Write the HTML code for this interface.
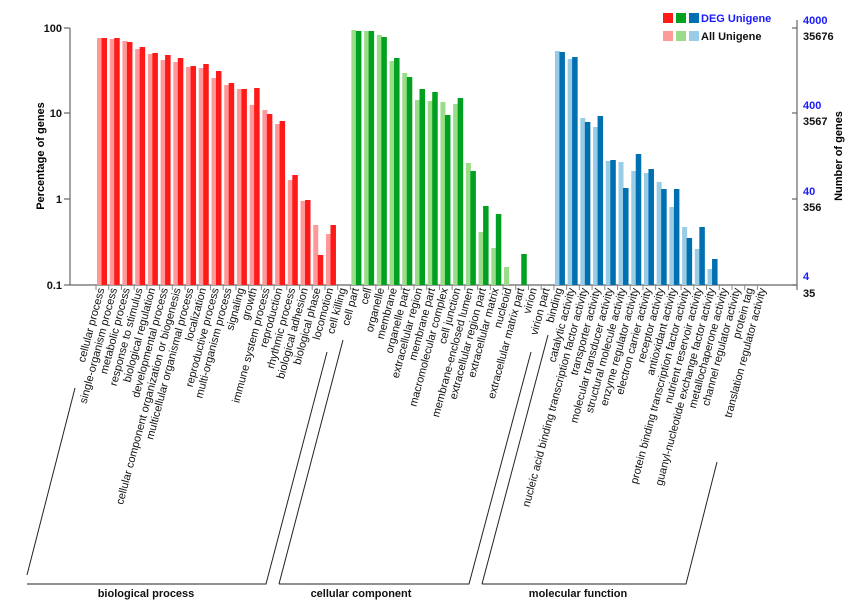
<!DOCTYPE html>
<html><head><meta charset="utf-8"><style>
html,body{margin:0;padding:0;background:#fff;}
svg{display:block;font-family:"Liberation Sans",Arial,sans-serif;}
</style></head><body>
<svg id="s" width="852" height="607" viewBox="0 0 852 607" xmlns="http://www.w3.org/2000/svg">
<g stroke="#666" stroke-width="1.2" fill="none">
<line x1="70" y1="28" x2="70" y2="285"/>
<line x1="70" y1="285" x2="797" y2="285"/>
<line x1="797" y1="20" x2="797" y2="290"/>
<line x1="64" y1="28" x2="70" y2="28"/><line x1="64" y1="113" x2="70" y2="113"/><line x1="64" y1="199" x2="70" y2="199"/><line x1="64" y1="285" x2="70" y2="285"/>
<line x1="792" y1="28" x2="797" y2="28"/><line x1="792" y1="113" x2="797" y2="113"/><line x1="792" y1="199" x2="797" y2="199"/><line x1="792" y1="285" x2="797" y2="285"/>
</g>
<g font-size="11" font-weight="bold" fill="#111" text-anchor="end">
<text x="62" y="32">100</text><text x="62" y="117">10</text><text x="62" y="203">1</text><text x="62" y="289">0.1</text>
</g>
<text transform="translate(44,156) rotate(-90)" font-size="11" font-weight="bold" text-anchor="middle">Percentage of genes</text>
<g font-size="11" font-weight="bold">
<text x="803" y="24" fill="#1a1aff">4000</text><text x="803" y="40" fill="#111">35676</text>
<text x="803" y="109" fill="#1a1aff">400</text><text x="803" y="125" fill="#111">3567</text>
<text x="803" y="195" fill="#1a1aff">40</text><text x="803" y="211" fill="#111">356</text>
<text x="803" y="280" fill="#1a1aff">4</text><text x="803" y="297" fill="#111">35</text>
</g>
<text transform="translate(842,156) rotate(-90)" font-size="11" font-weight="bold" text-anchor="middle">Number of genes</text>
<rect x="663" y="13" width="10" height="10" fill="#ff1a1a"/><rect x="676" y="13" width="10" height="10" fill="#00a020"/><rect x="689" y="13" width="10" height="10" fill="#0070b0"/>
<rect x="663" y="31" width="10" height="10" fill="#ff9999"/><rect x="676" y="31" width="10" height="10" fill="#99dd88"/><rect x="689" y="31" width="10" height="10" fill="#99cce6"/>
<text x="701" y="22" font-size="11" font-weight="bold" fill="#1a1aff">DEG Unigene</text>
<text x="701" y="40" font-size="11" font-weight="bold" fill="#111">All Unigene</text>
<g id="bars"></g>
<g stroke="#222" stroke-width="1" fill="none">
<polyline points="27,575 75,388"/><polyline points="27,584 266,584 327,352"/>
<polyline points="279,584 343,340"/><polyline points="279,584 469,584 531,352"/>
<polyline points="482,584 548,335"/><polyline points="482,584 686,584 717,462"/>
</g>
<g font-size="11" font-weight="bold" text-anchor="middle" fill="#111">
<text x="146" y="597">biological process</text><text x="361" y="597">cellular component</text><text x="578" y="597">molecular function</text>
</g>
</svg>
<script>
var names=["cellular process","single-organism process","metabolic process","response to stimulus","biological regulation","developmental process","cellular component organization or biogenesis","multicellular organismal process","localization","reproductive process","multi-organism process","signaling","growth","immune system process","reproduction","rhythmic process","biological adhesion","biological phase","locomotion","cell killing",
"cell part","cell","organelle","membrane","organelle part","extracellular region","membrane part","macromolecular complex","cell junction","membrane-enclosed lumen","extracellular region part","extracellular matrix","nucleoid","extracellular matrix part","virion","virion part",
"binding","catalytic activity","nucleic acid binding transcription factor activity","transporter activity","molecular transducer activity","structural molecule activity","enzyme regulator activity","electron carrier activity","receptor activity","antioxidant activity","protein binding transcription factor activity","nutrient reservoir activity","guanyl-nucleotide exchange factor activity","metallochaperone activity","channel regulator activity","protein tag","translation regulator activity"];
var tops=[[38,38],[39,38],[41,42],[49,47],[54,53],[60,55],[62,58],[67,66],[68,64],[78,71],[85,83],[89,89],[105,88],[110,114],[124,121],[180,175],[201,200],[225,255],[234,225],[0,0],
[30,31],[31,31],[35,37],[61,58],[73,77],[100,89],[101,92],[102,115],[104,98],[163,171],[232,206],[248,214],[267,0],[0,254],[0,0],[0,0],
[51,52],[59,57],[118,122],[127,116],[161,160],[162,188],[171,154],[173,169],[182,189],[207,189],[227,238],[249,227],[269,259],[0,0],[0,0],[0,0],[0,0]];
var g=document.getElementById('bars'),ns="http://www.w3.org/2000/svg",h="";
for(var i=0;i<names.length;i++){
 var x=96.5+12.72*i,c=i<20?["#ff9999","#ff1a1a"]:i<36?["#99dd88","#00a020"]:["#99cce6","#0070b0"];
 var t=tops[i];
 if(t[0])h+='<rect x="'+(x+0.5)+'" y="'+t[0]+'" width="5" height="'+(285-t[0])+'" fill="'+c[0]+'"/>';
 if(t[1])h+='<rect x="'+(x+5)+'" y="'+t[1]+'" width="5.5" height="'+(285-t[1])+'" fill="'+c[1]+'"/>';
 h+='<line x1="'+(x-0.5)+'" y1="285" x2="'+(x-0.5)+'" y2="290" stroke="#888" stroke-width="1"/>';
 h+='<text transform="translate('+(x+8)+',289) rotate(-75)" font-size="11" text-anchor="end" fill="#111">'+names[i]+'</text>';
}
g.innerHTML=h;
</script>
</body></html>
